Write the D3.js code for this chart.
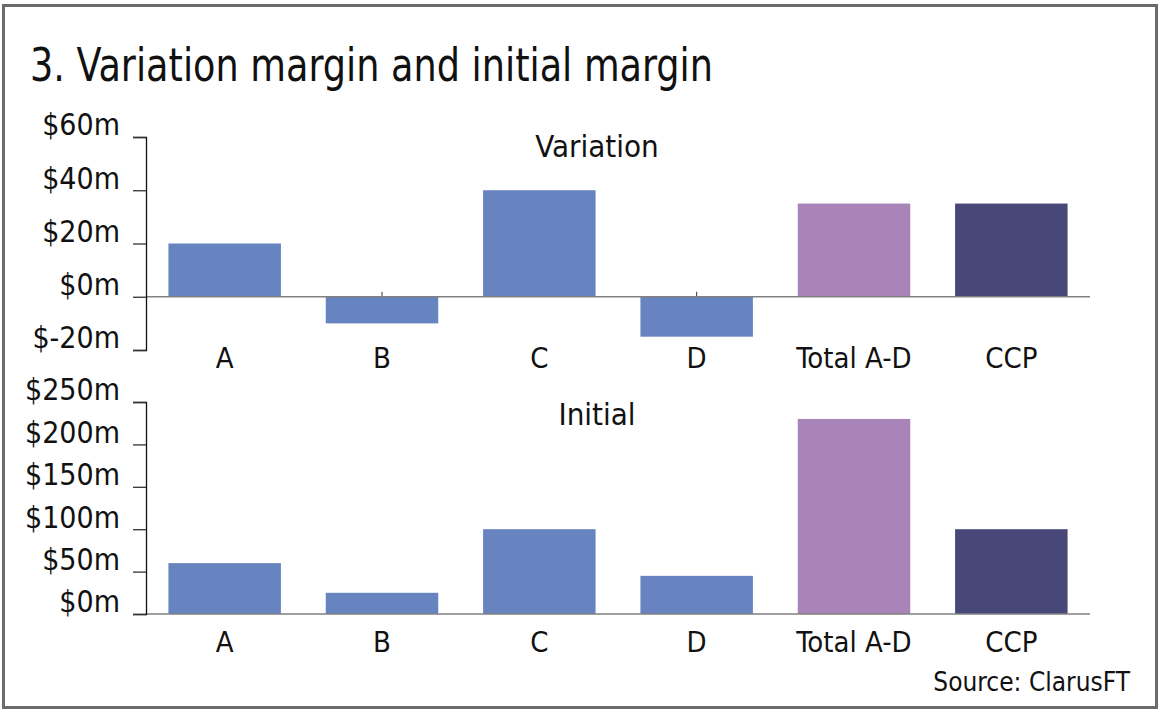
<!DOCTYPE html>
<html>
<head>
<meta charset="utf-8">
<script src="https://cdn.jsdelivr.net/npm/d3@7"></script>
<style>
  body { margin: 0; background: #fff; }
  svg text { font-family: "DejaVu Sans Condensed", "Liberation Sans Narrow", "Open Sans", sans-serif; fill: #111; }
</style>
</head>
<body>
<svg id="chart" width="1160" height="716"></svg>
<script>
// Data ($m)
const categories = ['A', 'B', 'C', 'D', 'Total A-D', 'CCP'];
const variationValues = [20, -10, 40, -15, 35, 35];
const initialValues = [60, 25, 100, 45, 230, 100];
const variationTicks = [-20, 0, 20, 40, 60];
const initialTicks = [0, 50, 100, 150, 200, 250];
const barColors = ['#6783c0', '#6783c0', '#6783c0', '#6783c0', '#a984b8', '#474878'];

const svg = d3.select('#chart');

// Frame
svg.append('rect')
    .attr('x', 3.5).attr('y', 5.5)
    .attr('width', 1153).attr('height', 702)
    .attr('fill', 'none')
    .attr('stroke', '#6b6b6b')
    .attr('stroke-width', 3);

// Title (condensed face in the original, so squeeze to its width)
svg.append('text')
    .attr('x', 30).attr('y', 81)
    .attr('font-size', 46)
    .attr('textLength', 683)
    .attr('lengthAdjust', 'spacingAndGlyphs')
    .text('3. Variation margin and initial margin');

const xScale = d3.scaleBand()
    .domain(categories)
    .range([146, 1090])
    .paddingInner(0.285)
    .paddingOuter(0.1425);

/**
 * Draw one panel of bars
 */
function drawPanel(values, ticks, yRange, title, titleY, labelY) {
    const yScale = d3.scaleLinear()
        .domain([ticks[0], ticks[ticks.length - 1]])
        .range(yRange);

    const g = svg.append('g');
    const zeroY = yScale(0);

    // Small category ticks above the baseline
    g.selectAll('.cat-tick')
        .data(categories)
        .enter()
        .append('line')
        .attr('x1', d => xScale(d) + xScale.bandwidth() / 2)
        .attr('x2', d => xScale(d) + xScale.bandwidth() / 2)
        .attr('y1', zeroY - 5)
        .attr('y2', zeroY)
        .attr('stroke', '#333')
        .attr('stroke-width', 1);

    // Bars
    g.selectAll('.bar')
        .data(values)
        .enter()
        .append('rect')
        .attr('x', (d, i) => xScale(categories[i]))
        .attr('width', xScale.bandwidth())
        .attr('y', d => yScale(Math.max(0, d)))
        .attr('height', d => Math.abs(yScale(d) - zeroY))
        .attr('fill', (d, i) => barColors[i]);

    // Baseline
    g.append('line')
        .attr('x1', 146).attr('x2', 1090)
        .attr('y1', zeroY).attr('y2', zeroY)
        .attr('stroke', '#808080')
        .attr('stroke-width', 1.5);

    // Y axis
    const axis = g.append('g')
        .attr('transform', 'translate(146,0)')
        .call(d3.axisLeft(yScale)
            .tickValues(ticks)
            .tickSize(13)
            .tickPadding(13)
            .tickFormat(d => `$${d}m`));
    axis.select('.domain').attr('stroke', '#111').attr('stroke-width', 1.3);
    axis.selectAll('.tick line').attr('stroke', '#333').attr('stroke-width', 1.3);
    axis.selectAll('.tick text')
        .attr('font-size', 30)
        .attr('fill', '#111')
        .attr('dy', '-0.07em');

    // Category labels
    g.selectAll('.cat-label')
        .data(categories)
        .enter()
        .append('text')
        .attr('x', d => xScale(d) + xScale.bandwidth() / 2)
        .attr('y', labelY)
        .attr('text-anchor', 'middle')
        .attr('font-size', 29)
        .text(d => d);

    // Panel title
    g.append('text')
        .attr('x', 597).attr('y', titleY)
        .attr('text-anchor', 'middle')
        .attr('font-size', 31)
        .text(title);
}

drawPanel(variationValues, variationTicks, [350, 137], 'Variation', 157, 368);
drawPanel(initialValues, initialTicks, [614, 402], 'Initial', 425, 652);

// Source
svg.append('text')
    .attr('x', 1130).attr('y', 691)
    .attr('text-anchor', 'end')
    .attr('font-size', 26)
    .text('Source: ClarusFT');
</script>
</body>
</html>
